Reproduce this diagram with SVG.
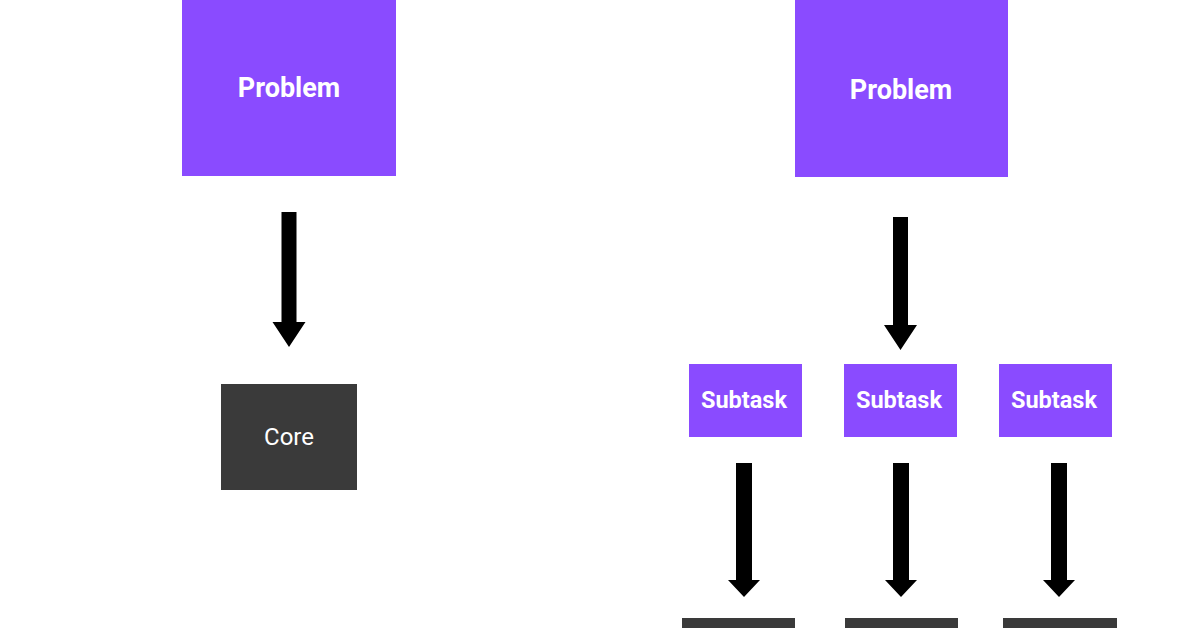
<svg xmlns="http://www.w3.org/2000/svg" width="1196" height="628" viewBox="0 0 1196 628">
<style>
.p{fill:#8a4bff}
.d{fill:#3a3a3a}
.t{font-family:Roboto,"Liberation Sans",sans-serif;fill:#fff;text-anchor:middle;dominant-baseline:central}
.b{font-weight:bold}
.a{fill:#000}
</style>
<rect width="1196" height="628" fill="#fff"/>
<g id="problem-left"><rect class="p" x="182" y="0" width="214" height="176"/><text class="t b" x="289" y="88" font-size="27">Problem</text></g>
<g id="core"><rect class="d" x="221" y="384" width="136" height="106"/><text class="t" x="289" y="437" font-size="24">Core</text></g>
<g id="problem-right"><rect class="p" x="795" y="0" width="213" height="177"/><text class="t b" x="901" y="90" font-size="27">Problem</text></g>
<g id="subtask1"><rect class="p" x="689" y="364" width="113" height="73"/><text class="t b" x="744" y="400" font-size="23.5">Subtask</text></g>
<g id="subtask2"><rect class="p" x="844" y="364" width="113" height="73"/><text class="t b" x="899" y="400" font-size="23.5">Subtask</text></g>
<g id="subtask3"><rect class="p" x="999" y="364" width="113" height="73"/><text class="t b" x="1054" y="400" font-size="23.5">Subtask</text></g>
<g id="core1"><rect class="d" x="682" y="618" width="113" height="20"/></g>
<g id="core2"><rect class="d" x="845" y="618" width="113" height="20"/></g>
<g id="core3"><rect class="d" x="1003" y="618" width="114" height="20"/></g>
<g id="connectors">
<path class="a" d="M281.5 212h15v110h9l-16.5 25-16.5-25h9z"/>
<path class="a" d="M893 217h15v108h9l-16.5 25-16.5-25h9z"/>
<path class="a" d="M736 463h16v117h8l-16 17-16-17h8z"/>
<path class="a" d="M893 463h16v117h8l-16 17-16-17h8z"/>
<path class="a" d="M1051 463h16v117h8l-16 17-16-17h8z"/>
</g>
</svg>
